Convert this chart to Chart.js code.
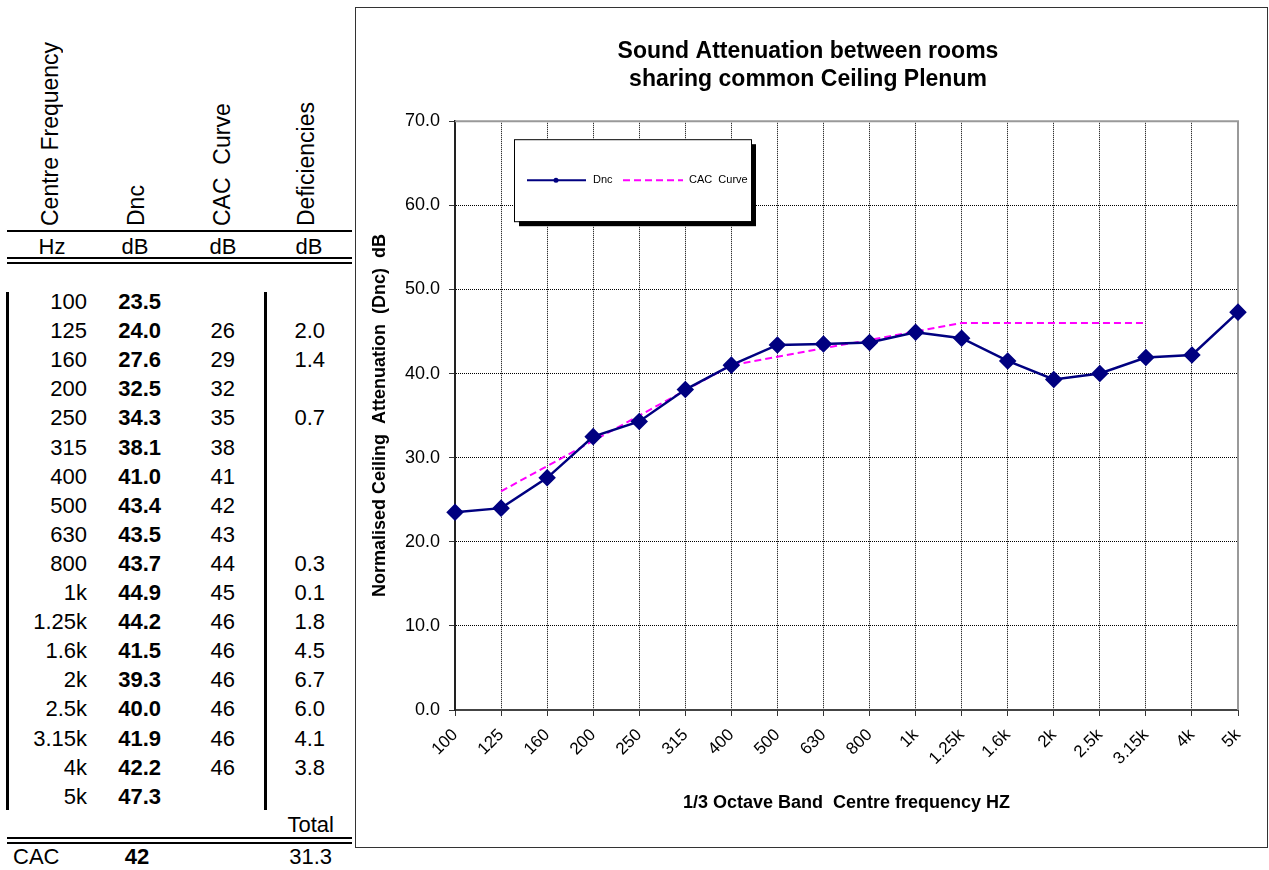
<!DOCTYPE html>
<html>
<head>
<meta charset="utf-8">
<script src="https://cdn.jsdelivr.net/npm/chart.js@4"></script>
<style>
    body { margin: 0; width: 1269px; height: 870px; overflow: hidden; background: #fff; position: relative;
           font-family: "Liberation Sans", Arial, sans-serif; color: #000; }
    .cell { position: absolute; font-size: 22px; line-height: 28px; height: 28px; white-space: nowrap; }
    .b { font-weight: bold; }
    .hline { position: absolute; background: #000; height: 2px; left: 7px; width: 345px; }
    .vline { position: absolute; background: #000; width: 3px; }
    .head { position: absolute; top: 0; height: 226px; font-size: 23px; line-height: 28px; width: 28px;
            writing-mode: vertical-rl; transform: rotate(180deg); white-space: pre; }
    #frame { position: absolute; left: 355px; top: 7px; width: 911px; height: 839px; border: 1px solid #333; }
    #chartBox { position: absolute; left: 356px; top: 8px; width: 910px; height: 838px; }
</style>
</head>
<body>
<div id="table"></div>
<div id="frame"></div>
<div id="chartBox"><canvas id="cacChart"></canvas></div>
<script>
// Dữ liệu đọc từ bảng / biểu đồ
const frequencies = ['100', '125', '160', '200', '250', '315', '400', '500', '630', '800', '1k', '1.25k', '1.6k', '2k', '2.5k', '3.15k', '4k', '5k'];
const dncValues = [23.5, 24.0, 27.6, 32.5, 34.3, 38.1, 41.0, 43.4, 43.5, 43.7, 44.9, 44.2, 41.5, 39.3, 40.0, 41.9, 42.2, 47.3];
const cacValues = [null, 26, 29, 32, 35, 38, 41, 42, 43, 44, 45, 46, 46, 46, 46, 46, 46, null];
// Đường CAC trên biểu đồ dừng ở 3.15k
const cacPlotted = [null, 26, 29, 32, 35, 38, 41, 42, 43, 44, 45, 46, 46, 46, 46, 46, null, null];
const deficiencies = [null, 2.0, 1.4, null, 0.7, null, null, null, null, 0.3, 0.1, 1.8, 4.5, 6.7, 6.0, 4.1, 3.8, null];
const yTicks = [0, 10, 20, 30, 40, 50, 60, 70];
const cacRating = 42;
const deficiencyTotal = 31.3;

// Hàm đặt một ô chữ trong bảng
function place(text, x, cy, align, bold) {
    const d = document.createElement('div');
    d.className = 'cell' + (bold ? ' b' : '');
    d.textContent = text;
    d.style.top = (cy - 14) + 'px';
    if (align === 'right') { d.style.left = (x - 200) + 'px'; d.style.width = '200px'; d.style.textAlign = 'right'; }
    else if (align === 'center') { d.style.left = (x - 100) + 'px'; d.style.width = '200px'; d.style.textAlign = 'center'; }
    else { d.style.left = x + 'px'; }
    document.getElementById('table').appendChild(d);
}

function addLine(cls, style) {
    const d = document.createElement('div');
    d.className = cls;
    Object.assign(d.style, style);
    document.getElementById('table').appendChild(d);
}

function buildTable() {
    const table = document.getElementById('table');
    // Tiêu đề xoay dọc
    [['Centre Frequency', 50], ['Dnc', 136], ['CAC  Curve', 222], ['Deficiencies', 306]].forEach(([t, x]) => {
        const h = document.createElement('div');
        h.className = 'head';
        h.textContent = t;
        h.style.left = (x - 14) + 'px';
        table.appendChild(h);
    });
    addLine('hline', { top: '230px' });
    place('Hz', 52, 247, 'center');
    place('dB', 135, 247, 'center');
    place('dB', 223, 247, 'center');
    place('dB', 309, 247, 'center');
    addLine('hline', { top: '257px' });
    addLine('hline', { top: '262px' });

    addLine('vline', { left: '6px', top: '292px', height: '518px' });
    addLine('vline', { left: '264px', top: '292px', height: '518px' });

    frequencies.forEach((f, i) => {
        const cy = 302 + i * 29.1;
        place(f, 87, cy, 'right');
        place(dncValues[i].toFixed(1), 161, cy, 'right', true);
        if (cacValues[i] !== null) place(String(cacValues[i]), 235, cy, 'right');
        if (deficiencies[i] !== null) place(deficiencies[i].toFixed(1), 325, cy, 'right');
    });

    place('Total', 334, 825, 'right');
    addLine('hline', { top: '837px' });
    addLine('hline', { top: '842px' });
    place('CAC', 13, 857, 'left');
    place(String(cacRating), 137, 857, 'center', true);
    place(deficiencyTotal.toFixed(1), 332, 857, 'right');
}

// Plugin vẽ viền vùng biểu đồ
const plotBorder = {
    id: 'plotBorder',
    beforeDatasetsDraw(chart) {
        const { ctx, chartArea: a } = chart;
        ctx.save();
        ctx.strokeStyle = '#999';
        ctx.lineWidth = 2;
        ctx.beginPath();
        ctx.moveTo(a.left, a.top);
        ctx.lineTo(a.right, a.top);
        ctx.lineTo(a.right, a.bottom);
        ctx.stroke();
        ctx.restore();
    }
};

// Plugin vẽ chú thích có bóng
const boxLegend = {
    id: 'boxLegend',
    afterDatasetsDraw(chart) {
        const { ctx, chartArea: a } = chart;
        const bx = a.left + 59, by = a.top + 18, bw = 237, bh = 82;
        ctx.save();
        ctx.fillStyle = '#000';
        ctx.fillRect(bx + 5, by + 5, bw, bh);
        ctx.fillStyle = '#fff';
        ctx.fillRect(bx, by, bw, bh);
        ctx.strokeStyle = '#000';
        ctx.lineWidth = 1;
        ctx.strokeRect(bx + 0.5, by + 0.5, bw, bh);
        const ly = by + 41;
        ctx.strokeStyle = '#000080';
        ctx.lineWidth = 2;
        ctx.beginPath(); ctx.moveTo(bx + 13, ly); ctx.lineTo(bx + 72, ly); ctx.stroke();
        ctx.fillStyle = '#000080';
        ctx.beginPath(); ctx.arc(bx + 42, ly, 2.5, 0, Math.PI * 2); ctx.fill();
        ctx.strokeStyle = '#ff00ff';
        ctx.setLineDash([7, 4]);
        ctx.beginPath(); ctx.moveTo(bx + 109, ly); ctx.lineTo(bx + 169, ly); ctx.stroke();
        ctx.setLineDash([]);
        ctx.fillStyle = '#000';
        ctx.font = '11px "Liberation Sans", Arial, sans-serif';
        ctx.textBaseline = 'middle';
        ctx.fillText(chart.data.datasets[0].label, bx + 79, ly);
        ctx.fillText(chart.data.datasets[1].label, bx + 175, ly);
        ctx.restore();
    }
};

function renderChart() {
    const ctx = document.getElementById('cacChart').getContext('2d');
    const fam = '"Liberation Sans", Arial, sans-serif';
    new Chart(ctx, {
        type: 'line',
        data: {
            labels: frequencies,
            datasets: [
                {
                    label: 'Dnc',
                    data: dncValues,
                    borderColor: '#000080',
                    backgroundColor: '#000080',
                    borderWidth: 2.5,
                    pointStyle: 'rectRot',
                    pointRadius: 7,
                    pointBackgroundColor: '#000080',
                    pointBorderColor: '#000080',
                    tension: 0,
                    fill: false
                },
                {
                    label: 'CAC  Curve',
                    data: cacPlotted,
                    borderColor: '#ff00ff',
                    borderWidth: 2,
                    borderDash: [7, 4],
                    pointRadius: 0,
                    tension: 0,
                    fill: false
                }
            ]
        },
        options: {
            responsive: true,
            maintainAspectRatio: false,
            animation: false,
            // lề trái 22 để tiêu đề được canh giữa như bản gốc
            layout: { padding: { left: 22, top: 0, right: 28, bottom: 0 } },
            plugins: {
                legend: { display: false },
                tooltip: { enabled: false },
                title: {
                    display: true,
                    text: ['Sound Attenuation between rooms', 'sharing common Ceiling Plenum'],
                    color: '#000',
                    font: { family: fam, size: 23, weight: 'bold', lineHeight: 1.2 },
                    padding: { top: 30, bottom: 28 }
                }
            },
            scales: {
                x: {
                    offset: false,
                    afterFit: s => { s.height = 136; },
                    grid: {
                        color: '#000',
                        lineWidth: 1,
                        tickLength: 6,
                        tickColor: '#333',
                        tickBorderDash: []
                    },
                    border: { color: '#444', width: 2, dash: [1, 1] },
                    ticks: {
                        autoSkip: false,
                        maxRotation: 45,
                        minRotation: 45,
                        padding: 9,
                        color: '#000',
                        font: { family: fam, size: 17 }
                    },
                    title: {
                        display: true,
                        text: '1/3 Octave Band  Centre frequency HZ',
                        color: '#000',
                        font: { family: fam, size: 18, weight: 'bold', lineHeight: 1.2 },
                        padding: { top: 0, bottom: 32 }
                    }
                },
                y: {
                    min: yTicks[0],
                    max: yTicks[yTicks.length - 1],
                    afterFit: s => { s.width = 77; },
                    afterBuildTicks: s => { s.ticks = yTicks.map(v => ({ value: v })); },
                    grid: {
                        color: '#000',
                        lineWidth: 1,
                        tickLength: 6,
                        tickColor: '#333',
                        tickBorderDash: []
                    },
                    border: { color: '#222', width: 2, dash: [1, 1] },
                    ticks: {
                        padding: 9,
                        color: '#000',
                        font: { family: fam, size: 18 },
                        callback: v => Number(v).toFixed(1)
                    },
                    title: {
                        display: true,
                        text: 'Normalised Ceiling  Attenuation  (Dnc)  dB',
                        color: '#000',
                        font: { family: fam, size: 18, weight: 'bold', lineHeight: 1.2 },
                        padding: { top: -8.8, bottom: 0 }
                    }
                }
            }
        },
        plugins: [plotBorder, boxLegend]
    });
}

document.addEventListener('DOMContentLoaded', () => {
    buildTable();
    renderChart();
});
</script>
</body>
</html>
